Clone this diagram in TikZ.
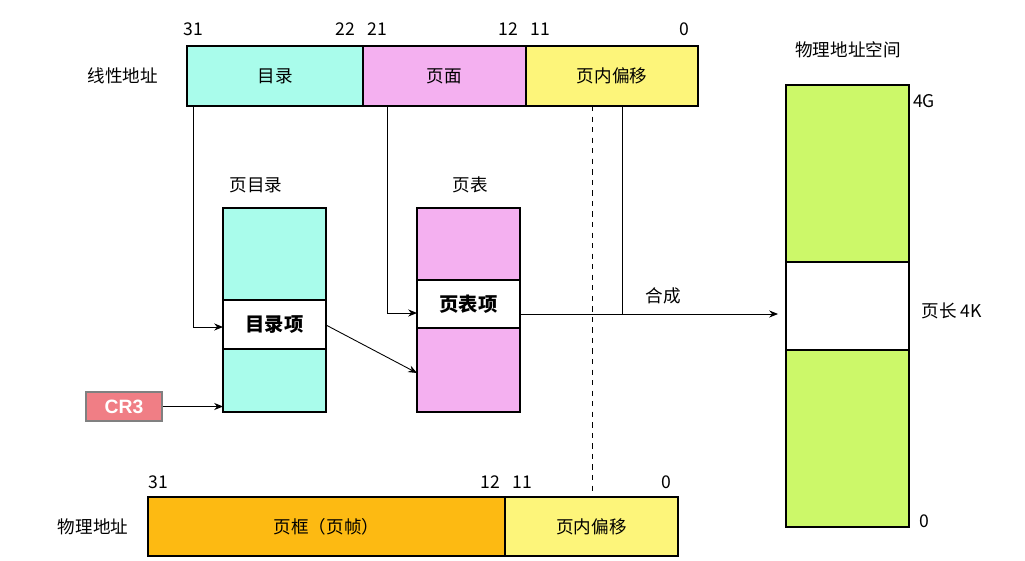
\documentclass[tikz,border=0pt]{standalone}
\usepackage{fontspec}
\setmainfont{Liberation Sans}
\newfontfamily\cjk{Noto Sans CJK SC}
\usetikzlibrary{arrows.meta}
\definecolor{cy}{HTML}{A9FCEB}
\definecolor{pk}{HTML}{F4B0F0}
\definecolor{yl}{HTML}{FDF57A}
\definecolor{og}{HTML}{FDBA12}
\definecolor{gr}{HTML}{CCF869}
\definecolor{cr}{HTML}{F07E85}
\begin{document}
\begin{tikzpicture}[x=0.02cm,y=-0.02cm,
  box/.style={draw,line width=0.6pt,inner sep=0pt},
  txt/.style={font=\cjk\fontsize{10}{12}\selectfont},
  bold/.style={font=\cjk\bfseries\fontsize{11}{13}\selectfont},
  arr/.style={-{Stealth[length=5pt,width=4pt]},line width=0.5pt}]
\useasboundingbox (0,0) rectangle (1025,561);
% linear address
\node[box,fill=cy,minimum width=176*0.02cm,minimum height=60*0.02cm,txt] (dir) at (275,76) {目录};
\node[box,fill=pk,minimum width=163*0.02cm,minimum height=60*0.02cm,txt] (pg) at (444.5,76) {页面};
\node[box,fill=yl,minimum width=172*0.02cm,minimum height=60*0.02cm,txt] (off) at (612,76) {页内偏移};
\node[txt] (la) at (123,76) {线性地址};
\foreach \x/\t [count=\i] in {193/31,345/22,377/21,508/12,540/11,684/0}
  \node[txt] (lb\i) at (\x,29) {\t};
% page directory
\node[txt] (pdl) at (256,185) {页目录};
\node[box,fill=cy,minimum width=103*0.02cm,minimum height=204*0.02cm] (pd) at (274.5,310) {};
\node[box,fill=white,minimum width=103*0.02cm,minimum height=49*0.02cm,bold] (pde) at (274.5,324.5) {目录项};
% page table
\node[txt] (ptl) at (470,185) {页表};
\node[box,fill=pk,minimum width=103*0.02cm,minimum height=204*0.02cm] (pt) at (468.5,310) {};
\node[box,fill=white,minimum width=103*0.02cm,minimum height=48*0.02cm,bold] (pte) at (468.5,304) {页表项};
% CR3
\node[box,draw=gray,fill=cr,text=white,minimum width=76*0.02cm,minimum height=29*0.02cm,font=\bfseries\fontsize{11}{13}\selectfont] (cr3) at (124,406.5) {CR3};
% physical address
\node[box,fill=og,minimum width=357*0.02cm,minimum height=59*0.02cm,txt] (frame) at (326.5,526.5) {页框（页帧）};
\node[box,fill=yl,minimum width=173*0.02cm,minimum height=59*0.02cm,txt] (poff) at (591.5,526.5) {页内偏移};
\node[txt] (pa) at (93,527) {物理地址};
\foreach \x/\t [count=\i] in {158/31,490/12,522/11,666/0}
  \node[txt] (pb\i) at (\x,482) {\t};
% physical space
\node[txt] (psl) at (848,50) {物理地址空间};
\node[box,fill=gr,minimum width=123*0.02cm,minimum height=442*0.02cm] (ps) at (847.5,306) {};
\node[box,fill=white,minimum width=123*0.02cm,minimum height=88*0.02cm] (pgs) at (847.5,306) {};
\node[txt] (g4) at (924,101) {4G};
\node[txt] (z0) at (924,521) {0};
\node[txt] (k4) at (952,311) {页长 4K};
% connectors
\coordinate (a1) at (193,106);
\draw[arr] (a1) |- (223,327);
\coordinate (a2) at (387,106);
\draw[arr] (a2) |- (417,313);
\draw[arr] (326,325) -- (417,373);
\draw[arr] (cr3) -- (223,406.5);
\coordinate (c1) at (520,314);
\coordinate (c2) at (778,314);
\draw[arr] (c1) -- (c2);
\draw[line width=0.5pt] (622,106) -- (622,314);
\draw[dashed,line width=0.5pt] (592,106) -- (592,497);
\node[txt] (hc) at (663,296) {合成};
\end{tikzpicture}
\end{document}
